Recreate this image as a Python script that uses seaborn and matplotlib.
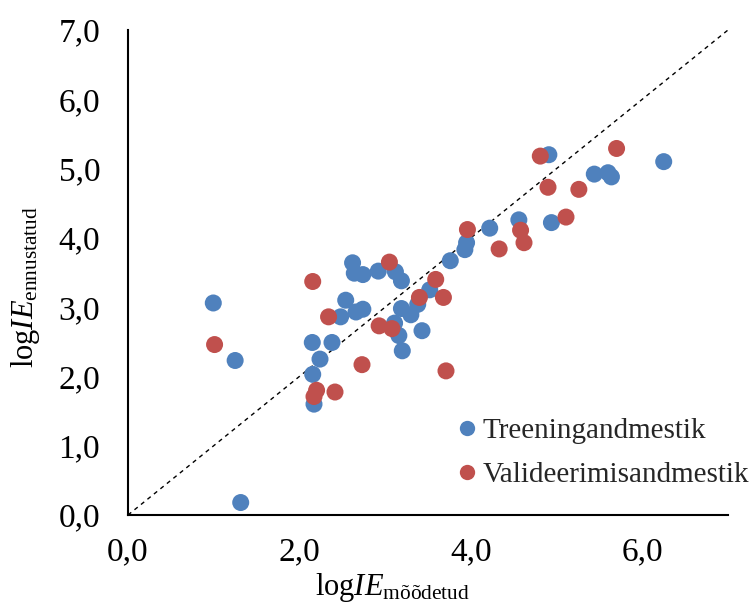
import matplotlib
matplotlib.use("Agg")
import matplotlib.pyplot as plt
import seaborn as sns
import pandas as pd

# Data
train_x = [0.995, 1.25, 1.315, 2.62, 2.64, 2.74, 2.92, 3.12, 3.19, 2.54, 2.66, 2.74,
           2.48, 2.15, 2.38, 2.24, 2.155, 2.17, 3.11, 3.16, 3.20, 3.43, 3.19, 3.30,
           3.38, 3.52, 3.76, 3.93, 3.95, 4.22, 4.56, 4.94, 5.44, 5.60, 5.64, 6.25, 4.91]
train_y = [3.06, 2.23, 0.18, 3.64, 3.49, 3.47, 3.52, 3.51, 3.38, 3.10, 2.93, 2.97,
           2.86, 2.49, 2.49, 2.25, 2.03, 1.60, 2.77, 2.59, 2.37, 2.66, 2.98, 2.89,
           3.04, 3.25, 3.67, 3.83, 3.93, 4.14, 4.26, 4.22, 4.92, 4.94, 4.88, 5.10, 5.20]
valid_x = [1.01, 2.155, 3.05, 2.34, 2.20, 2.17, 2.415, 2.73, 2.93, 3.08, 3.40, 3.59,
           3.68, 3.71, 3.96, 4.58, 4.62, 4.33, 5.11, 4.90, 5.26, 4.81, 5.70]
valid_y = [2.46, 3.37, 3.65, 2.86, 1.80, 1.71, 1.775, 2.17, 2.73, 2.69, 3.14, 3.40,
           3.14, 2.08, 4.12, 4.11, 3.93, 3.84, 4.30, 4.73, 4.70, 5.18, 5.29]
series_names = ["Treeningandmestik", "Valideerimisandmestik"]
identity = [0, 7]
x_ticks = [0, 2, 4, 6]
y_ticks = [0, 1, 2, 3, 4, 5, 6, 7]

df = pd.DataFrame({
    "x": train_x + valid_x,
    "y": train_y + valid_y,
    "set": [series_names[0]] * len(train_x) + [series_names[1]] * len(valid_x),
})

sns.set_theme(style="white")
plt.rcParams["font.family"] = ["Liberation Serif", "DejaVu Serif"]
plt.rcParams["mathtext.fontset"] = "custom"
plt.rcParams["mathtext.rm"] = "Liberation Serif"
plt.rcParams["mathtext.it"] = "Liberation Serif:italic"

fig = plt.figure(figsize=(7.55, 6.09), dpi=100)
ax = fig.add_axes([128 / 755, 1 - 515 / 609, 600 / 755, 485 / 609])

ax.plot(identity, identity, ls=(0, (3, 3)), color="black", lw=1.0, zorder=1)

sns.scatterplot(data=df, x="x", y="y", hue="set",
                palette=["#4F81BD", "#C0504D"], s=150, linewidth=0,
                edgecolor="none", ax=ax, zorder=3)

ax.set_xlim(0, 7)
ax.set_ylim(0, 7)
ax.set_xticks(x_ticks)
ax.set_yticks(y_ticks)
ax.set_xticklabels([f"{v:.1f}".replace(".", ",") for v in x_ticks])
ax.set_yticklabels([f"{v:.1f}".replace(".", ",") for v in y_ticks])
ax.tick_params(axis="both", length=0, labelsize=24, colors="black")
ax.tick_params(axis="x", pad=16)
ax.tick_params(axis="y", pad=20)

for side in ["top", "right"]:
    ax.spines[side].set_visible(False)
for side in ["left", "bottom"]:
    ax.spines[side].set_color("black")
    ax.spines[side].set_linewidth(1.5)

ax.set_xlabel(r"$\mathrm{log}\mathit{IE}_{\mathrm{mõõdetud}}$", fontsize=22, color="black")
ax.set_ylabel(r"$\mathrm{log}\mathit{IE}_{\mathrm{ennustatud}}$", fontsize=22, color="black")
ax.xaxis.set_label_coords(0.44, -0.115)
ax.yaxis.set_label_coords(-0.143, 0.47)

handles, labels = ax.get_legend_handles_labels()
ax.legend(handles, labels, loc="upper left", bbox_to_anchor=(458 / 755, 1 - 418 / 609),
          bbox_transform=fig.transFigure, frameon=False, fontsize=21,
          handlelength=0.6, handletextpad=0.25, labelspacing=0.6,
          borderpad=0, borderaxespad=0, markerscale=0.9)

fig.savefig("out.png", dpi=100)
